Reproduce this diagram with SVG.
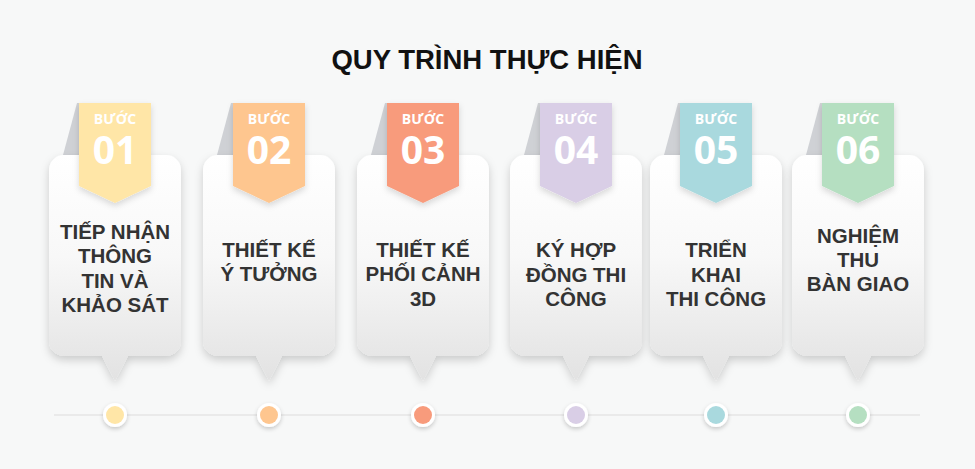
<svg xmlns="http://www.w3.org/2000/svg" width="975" height="469" viewBox="0 0 975 469">
<defs>
<linearGradient id="cardGrad" x1="0" y1="0" x2="0" y2="1">
<stop offset="0" stop-color="#ffffff"/>
<stop offset="0.45" stop-color="#f8f8f8"/>
<stop offset="1" stop-color="#e2e2e2"/>
</linearGradient>
<filter id="shadow" x="-20%" y="-20%" width="140%" height="140%">
<feDropShadow dx="0" dy="4" stdDeviation="4" flood-color="#000" flood-opacity="0.18"/>
</filter>
<filter id="rshadow" x="-30%" y="-20%" width="160%" height="150%">
<feDropShadow dx="0" dy="3" stdDeviation="3" flood-color="#000" flood-opacity="0.15"/>
</filter>
<filter id="dshadow" x="-50%" y="-50%" width="200%" height="200%">
<feDropShadow dx="0" dy="2" stdDeviation="2" flood-color="#000" flood-opacity="0.2"/>
</filter>
<path id="card" d="M15,155 H117 A15,15 0 0 1 132,170 V341 A15,15 0 0 1 117,356 H79 L66,381 L53,356 H15 A15,15 0 0 1 0,341 V170 A15,15 0 0 1 15,155 Z"/>
</defs>
<style>
.bg{fill:#f7f8f8}
.fold{fill:#cfd1d5}
.card{fill:url(#cardGrad);filter:url(#shadow)}
.rib{filter:url(#rshadow)}
.buoc{font-family:"Open Sans","Noto Sans",sans-serif;font-weight:700;font-size:14px;fill:#fff;text-anchor:middle}
.num{font-family:"Open Sans","Noto Sans",sans-serif;font-weight:700;font-size:39px;fill:#fff;text-anchor:middle}
.lbl{font-family:"Liberation Sans",Arial,sans-serif;font-weight:700;font-size:20.5px;fill:#333;text-anchor:middle}
.title{font-family:"Liberation Sans",Arial,sans-serif;font-weight:700;font-size:27.5px;fill:#111;text-anchor:middle}
.dotw{fill:#fff;filter:url(#dshadow)}
</style>
<rect class="bg" x="0" y="0" width="975" height="469"/>
<text class="title" x="487" y="69">QUY TRÌNH THỰC HIỆN</text>

<g id="connectors">
<line x1="54" y1="415" x2="920" y2="415" stroke="#e6e6e6" stroke-width="1.5"/>
</g>

<g id="step1" transform="translate(49,0)">
<polygon class="fold" points="14,155 28,103 30,103 30,155"/>
<use href="#card" class="card"/>
<polygon class="rib" fill="#FFE6A7" points="30,103 102,103 102,186 66,203 30,186"/>
<text class="buoc" x="66" y="124">BƯỚC</text>
<text class="num" x="66" y="164">01</text>
<text class="lbl" x="66" y="239">TIẾP NHẬN</text>
<text class="lbl" x="66" y="263">THÔNG</text>
<text class="lbl" x="66" y="288">TIN VÀ</text>
<text class="lbl" x="66" y="312">KHẢO SÁT</text>
<circle class="dotw" cx="66" cy="415" r="12"/>
<circle fill="#FFE6A7" cx="66" cy="415" r="9"/>
</g>

<g id="step2" transform="translate(203,0)">
<polygon class="fold" points="14,155 28,103 30,103 30,155"/>
<use href="#card" class="card"/>
<polygon class="rib" fill="#FEC68F" points="30,103 102,103 102,186 66,203 30,186"/>
<text class="buoc" x="66" y="124">BƯỚC</text>
<text class="num" x="66" y="164">02</text>
<text class="lbl" x="66" y="257">THIẾT KẾ</text>
<text class="lbl" x="66" y="281">Ý TƯỞNG</text>
<circle class="dotw" cx="66" cy="415" r="12"/>
<circle fill="#FEC68F" cx="66" cy="415" r="9"/>
</g>

<g id="step3" transform="translate(357,0)">
<polygon class="fold" points="14,155 28,103 30,103 30,155"/>
<use href="#card" class="card"/>
<polygon class="rib" fill="#F89B7C" points="30,103 102,103 102,186 66,203 30,186"/>
<text class="buoc" x="66" y="124">BƯỚC</text>
<text class="num" x="66" y="164">03</text>
<text class="lbl" x="66" y="257">THIẾT KẾ</text>
<text class="lbl" x="66" y="281">PHỐI CẢNH</text>
<text class="lbl" x="66" y="306">3D</text>
<circle class="dotw" cx="66" cy="415" r="12"/>
<circle fill="#F89B7C" cx="66" cy="415" r="9"/>
</g>

<g id="step4" transform="translate(510,0)">
<polygon class="fold" points="14,155 28,103 30,103 30,155"/>
<use href="#card" class="card"/>
<polygon class="rib" fill="#D9CEE6" points="30,103 102,103 102,186 66,203 30,186"/>
<text class="buoc" x="66" y="124">BƯỚC</text>
<text class="num" x="66" y="164">04</text>
<text class="lbl" x="66" y="257">KÝ HỢP</text>
<text class="lbl" x="66" y="282">ĐỒNG THI</text>
<text class="lbl" x="66" y="306">CÔNG</text>
<circle class="dotw" cx="66" cy="415" r="12"/>
<circle fill="#D9CEE6" cx="66" cy="415" r="9"/>
</g>

<g id="step5" transform="translate(650,0)">
<polygon class="fold" points="14,155 28,103 30,103 30,155"/>
<use href="#card" class="card"/>
<polygon class="rib" fill="#A9D9DE" points="30,103 102,103 102,186 66,203 30,186"/>
<text class="buoc" x="66" y="124">BƯỚC</text>
<text class="num" x="66" y="164">05</text>
<text class="lbl" x="66" y="257">TRIỂN</text>
<text class="lbl" x="66" y="282">KHAI</text>
<text class="lbl" x="66" y="306">THI CÔNG</text>
<circle class="dotw" cx="66" cy="415" r="12"/>
<circle fill="#A9D9DE" cx="66" cy="415" r="9"/>
</g>

<g id="step6" transform="translate(792,0)">
<polygon class="fold" points="14,155 28,103 30,103 30,155"/>
<use href="#card" class="card"/>
<polygon class="rib" fill="#B5DFC1" points="30,103 102,103 102,186 66,203 30,186"/>
<text class="buoc" x="66" y="124">BƯỚC</text>
<text class="num" x="66" y="164">06</text>
<text class="lbl" x="66" y="243">NGHIỆM</text>
<text class="lbl" x="66" y="267">THU</text>
<text class="lbl" x="66" y="291">BÀN GIAO</text>
<circle class="dotw" cx="66" cy="415" r="12"/>
<circle fill="#B5DFC1" cx="66" cy="415" r="9"/>
</g>
</svg>
